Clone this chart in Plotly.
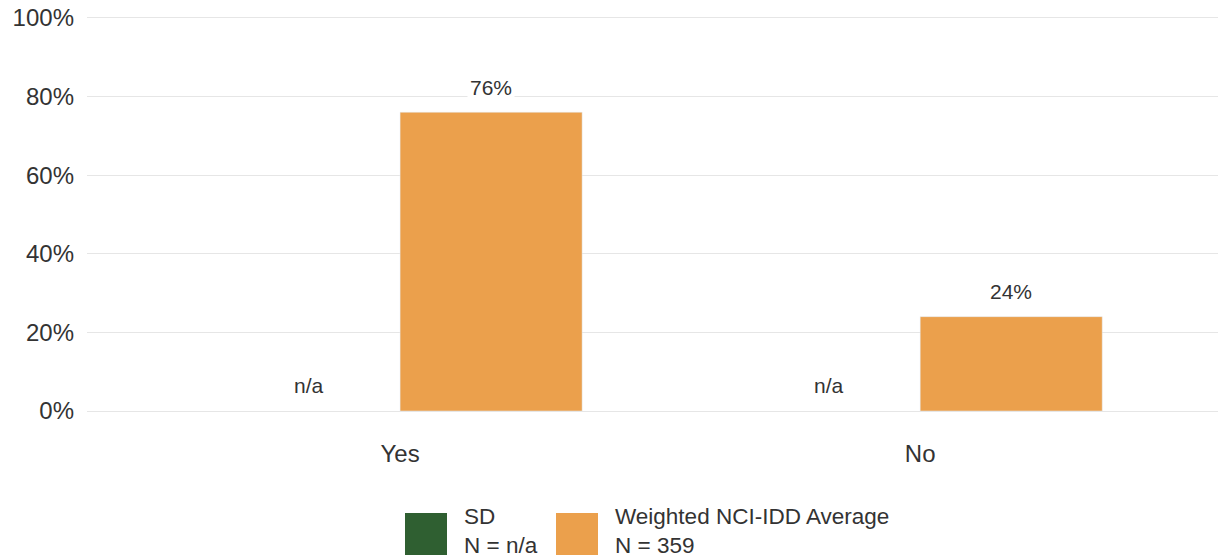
import plotly.graph_objects as go

categories = ["Yes", "No"]
sd_values = [None, None]
sd_labels = ["n/a", "n/a"]
avg_values = [0.76, 0.24]
avg_labels = ["76%", "24%"]
series_names = ["SD", "Weighted NCI-IDD Average"]
series_n = ["N = n/a", "N = 359"]
y_ticks = [0, 0.2, 0.4, 0.6, 0.8, 1.0]
y_tick_labels = ["0%", "20%", "40%", "60%", "80%", "100%"]

GREEN = "#2f5f31"
ORANGE = "#eba04c"
TEXT = "#333333"
FONT = "Liberation Sans, Arial, sans-serif"

BARGAP = 0.3
half = (1 - BARGAP) / 4  # half-offset of each bar centre within the group
Y_MAX = 1.02

fig = go.Figure()
fig.add_trace(go.Bar(x=categories, y=sd_values, name=series_names[0],
                     marker_color=GREEN, showlegend=False))
fig.add_trace(go.Bar(x=categories, y=avg_values, name=series_names[1],
                     marker_color=ORANGE, showlegend=False))

annotations = []
for i, cat in enumerate(categories):
    annotations.append(dict(x=i - half, y=0, xref="x", yref="y", text=sd_labels[i],
                            showarrow=False, yanchor="middle", yshift=26,
                            font=dict(size=21, color=TEXT, family=FONT)))
    annotations.append(dict(x=i + half, y=avg_values[i], xref="x", yref="y",
                            text=avg_labels[i], showarrow=False, yanchor="middle",
                            yshift=25, bgcolor="white", borderpad=2,
                            font=dict(size=21, color=TEXT, family=FONT)))

# Plot area in page pixels: x 87..1226, y from 0 at 411 with 393 px per 100%
PLOT_W = 1139
PLOT_H = 393 * Y_MAX
TOP = 411 - PLOT_H

def px(x):
    return (x - 87) / PLOT_W
def py(y):
    return (411 - y) / PLOT_H

shapes = []
legend_colors = [GREEN, ORANGE]
sw_left = [405, 556]
for k in range(2):
    shapes.append(dict(type="rect", xref="paper", yref="paper",
                       x0=px(sw_left[k]), x1=px(sw_left[k] + 42),
                       y0=py(555), y1=py(513), fillcolor=legend_colors[k],
                       line=dict(width=0)))
    annotations.append(dict(x=px(sw_left[k] + 58), y=py(531), xref="paper", yref="paper",
                            text=series_names[k] + "<br>" + series_n[k],
                            showarrow=False, xanchor="left", align="left",
                            yanchor="middle", borderpad=0,
                            font=dict(size=22.5, color=TEXT, family=FONT)))

t_margin = round(TOP - 8)
fig.update_layout(
    width=1218, height=551,
    margin=dict(l=79, r=0, t=t_margin, b=551 - t_margin - round(PLOT_H)),
    paper_bgcolor="white", plot_bgcolor="white",
    barmode="group", bargap=BARGAP, bargroupgap=0,
    font=dict(family=FONT, color=TEXT, size=24),
    annotations=annotations, shapes=shapes,
    showlegend=False,
    xaxis=dict(range=[-0.602, 1.588], showgrid=False, zeroline=False, showline=False,
               ticks="", ticklabelstandoff=26, automargin=False,
               tickfont=dict(size=24, color=TEXT)),
    yaxis=dict(range=[0, Y_MAX], tickvals=y_ticks, ticktext=y_tick_labels,
               showgrid=True, gridcolor="#e6e6e6", gridwidth=1,
               zeroline=True, zerolinecolor="#e6e6e6", zerolinewidth=1,
               showline=False, ticks="", ticklabelstandoff=12,
               ticklabeloverflow="allow", automargin=False,
               tickfont=dict(size=24, color=TEXT)),
)

fig.write_html("out.html")
